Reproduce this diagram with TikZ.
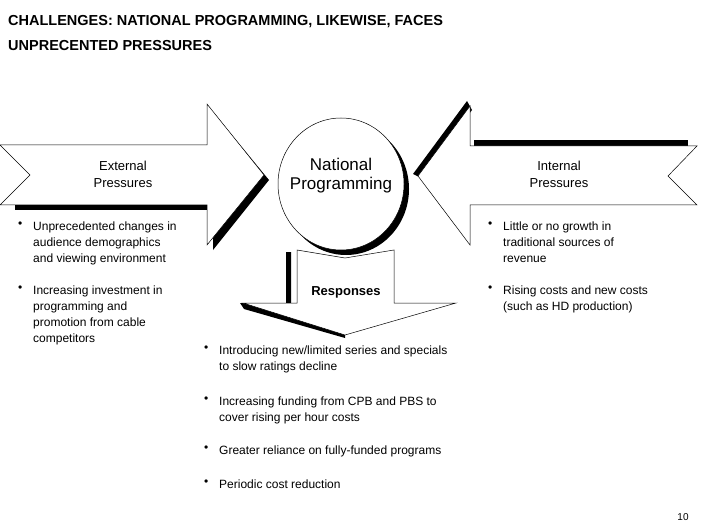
\documentclass[tikz,border=0pt]{standalone}
\usepackage{fontspec}
\usetikzlibrary{shapes.geometric}
\setmainfont{Liberation Sans}
\begin{document}
\begin{tikzpicture}[x=1pt,y=-1pt,
 txt/.style={anchor=north west,align=left,font=\fontsize{12}{16}\selectfont,inner sep=0pt},
 bul/.style={anchor=north west,inner sep=0pt,font=\fontsize{12}{16}\selectfont},
 shp/.style={draw=black,fill=white,line width=0.5pt},
 shd/.style={fill=black}]
\useasboundingbox (0,0) rectangle (706,529);
\node[anchor=north west,inner sep=0pt,align=left,font=\bfseries\fontsize{14.5}{25}\selectfont] (title) at (8,15)
 {CHALLENGES: NATIONAL PROGRAMMING, LIKEWISE, FACES\\UNPRECENTED PRESSURES};
% left arrow
\fill[shd] (35,150)--(211,150)--(211,110)--(269,180)--(213,250)--(213,210)--(15,210)--(15,200)--(35,200)--cycle;
\path[shp] (0,145)--(207,145)--(207,104)--(264,175)--(207,245)--(207,205)--(0,205)--(30,175)--cycle;
% circle
\fill[shd] (346,189) ellipse (63 and 66);
\node[shp,ellipse,minimum width=126,minimum height=132,inner sep=0] (np) at (341,184) {};
\node[font=\fontsize{17}{19}\selectfont,align=center] at (341,176) {National\\Programming};
% right arrow shadow
\fill[shd] (467,101)--(413,174)--(421,178)--(472,110)--cycle;
\fill[shd] (474,140) rectangle (688,148);
\path[shp] (418,176)--(470,106)--(470,146)--(697,146)--(668,176)--(697,205)--(470,205)--(470,245)--cycle;
% down arrow
\fill[shd] (291,252)--(291,303)--(240,303)--(244,309)--(345,338)--(345,333)--(286,312)--(286,252)--cycle;
\path[shp] (297,250)--(345,258)--(394,250)--(394,303)--(456,303)--(345,335)--(243,303)--(297,303)--cycle;
\node[font=\bfseries\fontsize{13}{15}\selectfont] (resp) at (346,292) {Responses};
\node[align=center,font=\fontsize{13}{17}\selectfont] (ext) at (123,174) {External\\Pressures};
\node[align=center,font=\fontsize{13}{17}\selectfont] (int) at (559,174) {Internal\\Pressures};
% bullets
\node[bul] at (18,222) {•}; \node[txt] (l1) at (33,222) {Unprecedented changes in\\audience demographics\\and viewing environment};
\node[bul] at (18,286) {•}; \node[txt] (l2) at (33,286) {Increasing investment in\\programming and\\promotion from cable\\competitors};
\node[bul] at (488,222) {•}; \node[txt] (r1) at (503,222) {Little or no growth in\\traditional sources of\\revenue};
\node[bul] at (488,286) {•}; \node[txt] (r2) at (503,286) {Rising costs and new costs\\(such as HD production)};
\node[bul] at (204,346) {•}; \node[txt] (b1) at (219,346) {Introducing new/limited series and specials\\to slow ratings decline};
\node[bul] at (204,397) {•}; \node[txt] (b2) at (219,397) {Increasing funding from CPB and PBS to\\cover rising per hour costs};
\node[bul] at (204,446) {•}; \node[txt] (b3) at (219,446) {Greater reliance on fully-funded programs};
\node[bul] at (204,480) {•}; \node[txt] (b4) at (219,480) {Periodic cost reduction};
\node[font=\fontsize{10}{12}\selectfont] (pg) at (683,517) {10};
\end{tikzpicture}
\end{document}
